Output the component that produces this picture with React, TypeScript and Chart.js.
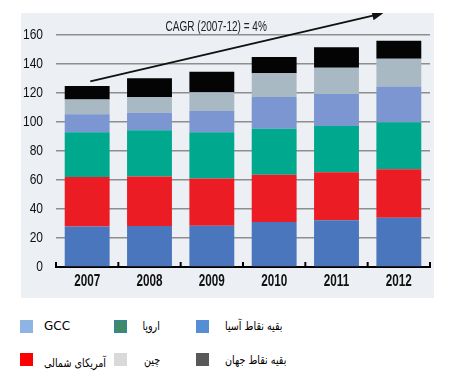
import React, { useEffect, useRef } from "react";
import { Chart, registerables } from "chart.js";

Chart.register(...registerables);

const YEARS = ["2007", "2008", "2009", "2010", "2011", "2012"];
const ASIA = [28, 28.3, 28.5, 31, 32.2, 34];
const NORTH_AMERICA = [34, 34.2, 32.6, 32.7, 33.1, 33.4];
const EUROPE = [31, 31.8, 31.8, 31.7, 31.9, 32.4];
const GCC = [12.3, 12.1, 14.7, 21.8, 22.1, 24.6];
const CHINA = [10.3, 10.6, 12.9, 16.4, 18.2, 19.3];
const WORLD = [9.2, 13.1, 14.2, 11.2, 14, 12.4];

const Y_TICKS = [0, 20, 40, 60, 80, 100, 120, 140, 160];

const CAGR_TEXT = "CAGR (2007-12) = 4%";
// arrow/label anchors in data units (category index, value)
const ARROW_FROM = [0.05, 128];
const ARROW_TO = [4.75, 175];
const CAGR_AT = [2.07, 165.5];

const LEGEND_LABELS = ["GCC", "اروپا", "بقیه نقاط آسیا", "آمریکای شمالی", "چین", "بقیه نقاط جهان"];
const LEGEND_COLORS = ["#8db4e2", "#3e8a6a", "#558ed5", "#ff0000", "#d9d9d9", "#595959"];

const FAM = "'DejaVu Sans', sans-serif";
const NARROW = "'Liberation Sans', Arial, sans-serif";

function condText(ctx: any, text: string, x: number, y: number, sx: number) {
  ctx.save();
  ctx.translate(x, y);
  ctx.scale(sx, 1);
  ctx.fillText(text, 0, 0);
  ctx.restore();
}

const annotPlugin = {
  id: "annot",
  afterDraw(chart: any) {
    const { ctx, scales, chartArea } = chart;
    const x = scales.x;
    const y = scales.y;
    ctx.save();
    // upward ticks at category boundaries
    ctx.strokeStyle = "#000";
    ctx.lineWidth = 2;
    const y0 = y.getPixelForValue(0);
    for (let i = 0; i <= YEARS.length; i++) {
      const px = x.getPixelForValue(i - 0.5);
      ctx.beginPath();
      ctx.moveTo(px, y0 + 1);
      ctx.lineTo(px, y0 - 5);
      ctx.stroke();
    }
    // x labels (condensed)
    ctx.fillStyle = "#111";
    ctx.textBaseline = "middle";
    ctx.textAlign = "center";
    ctx.font = `bold 16px ${NARROW}`;
    YEARS.forEach((lab, i) => condText(ctx, lab, x.getPixelForValue(i), y0 + 15, 0.73));
    // y labels (condensed)
    ctx.textAlign = "right";
    ctx.font = `normal 15px ${NARROW}`;
    Y_TICKS.forEach((v) => condText(ctx, String(v), chartArea.left - 13, y.getPixelForValue(v), 0.8));
    // arrow
    const x1 = x.getPixelForValue(ARROW_FROM[0]);
    const y1 = y.getPixelForValue(ARROW_FROM[1]);
    const x2 = x.getPixelForValue(ARROW_TO[0]);
    const y2 = y.getPixelForValue(ARROW_TO[1]);
    ctx.strokeStyle = "#111";
    ctx.lineWidth = 2;
    ctx.beginPath();
    ctx.moveTo(x1, y1);
    ctx.lineTo(x2 - 6, y2 + 1.4);
    ctx.stroke();
    const ang = Math.atan2(y2 - y1, x2 - x1);
    ctx.fillStyle = "#111";
    ctx.beginPath();
    ctx.moveTo(x2, y2);
    ctx.lineTo(x2 - 11 * Math.cos(ang) + 4.5 * Math.sin(ang), y2 - 11 * Math.sin(ang) - 4.5 * Math.cos(ang));
    ctx.lineTo(x2 - 11 * Math.cos(ang) - 4.5 * Math.sin(ang), y2 - 11 * Math.sin(ang) + 4.5 * Math.cos(ang));
    ctx.closePath();
    ctx.fill();
    // CAGR label
    ctx.fillStyle = "#222";
    ctx.font = `normal 15px ${NARROW}`;
    ctx.textAlign = "center";
    condText(ctx, CAGR_TEXT, x.getPixelForValue(CAGR_AT[0]), y.getPixelForValue(CAGR_AT[1]), 0.67);
    ctx.restore();
  },
};

function ChartBox() {
  const ref = useRef<HTMLCanvasElement>(null);
  useEffect(() => {
    const canvas = ref.current!;
    const ds = (label: string, data: number[], color: string) => ({
      label,
      data,
      backgroundColor: color,
      borderWidth: 0,
      barPercentage: 0.72,
      categoryPercentage: 1,
    });
    const chart = new Chart(canvas, {
      type: "bar",
      data: {
        labels: YEARS,
        datasets: [
          ds(LEGEND_LABELS[2], ASIA, "#4a76be"),
          ds(LEGEND_LABELS[3], NORTH_AMERICA, "#ec1c24"),
          ds(LEGEND_LABELS[1], EUROPE, "#00a88e"),
          ds(LEGEND_LABELS[0], GCC, "#7b96d0"),
          ds(LEGEND_LABELS[4], CHINA, "#a9b9c4"),
          ds(LEGEND_LABELS[5], WORLD, "#040404"),
        ],
      },
      options: {
        animation: false,
        responsive: false,
        maintainAspectRatio: false,
        layout: { padding: { top: 22, right: 4, left: 0, bottom: 0 } },
        plugins: { legend: { display: false }, tooltip: { enabled: false } },
        scales: {
          x: {
            stacked: true,
            grid: { display: true, drawOnChartArea: false, drawTicks: false, color: "rgba(0,0,0,0)" },
            border: { display: true, color: "#000", width: 2 },
            ticks: { display: false },
            afterFit: (s: any) => { s.height = 31; },
          },
          y: {
            stacked: true,
            min: 0,
            max: 160,
            afterBuildTicks: (s: any) => { s.ticks = Y_TICKS.map((v) => ({ value: v })); },
            grid: { color: "#8e8e8e", lineWidth: 1.5, drawTicks: false },
            border: { display: false },
            ticks: { display: false },
            afterFit: (s: any) => { s.width = 35; },
          },
        },
      },
      plugins: [annotPlugin],
    });
    return () => chart.destroy();
  }, []);
  return (
    <canvas
      ref={ref}
      width={413}
      height={285}
      style={{ position: "absolute", left: 21, top: 13, width: 413, height: 285, background: "#eceff3" }}
    />
  );
}

const SQ_X = [20, 114, 196];
const ROW_Y = [320, 353];

export default function App() {
  return (
    <div style={{ position: "absolute", left: 0, top: 0, width: 464, height: 382, background: "#fff", overflow: "hidden" }}>
      <ChartBox />
      {LEGEND_LABELS.map((label, i) => {
        const col = i % 3;
        const row = Math.floor(i / 3);
        const top = ROW_Y[row];
        const isEurope = i === 1;
        const latin = i === 0;
        const textStyle: React.CSSProperties = {
          position: "absolute",
          top: top - 2 + (i === 3 ? 4 : row === 1 ? 1 : 0),
          fontFamily: FAM,
          fontSize: 12,
          lineHeight: "17px",
          color: "#000",
          whiteSpace: "nowrap",
          transform: latin ? "none" : "scaleX(0.8)",
          transformOrigin: col === 1 ? "right center" : "left center",
        };
        if (col === 1) {
          textStyle.right = 464 - 160;
        } else {
          textStyle.left = col === 0 ? 44 : 225;
        }
        return (
          <React.Fragment key={label}>
            <div
              style={{
                position: "absolute",
                left: SQ_X[col],
                top,
                width: isEurope ? 11 : 13,
                height: isEurope ? 11 : 13,
                background: LEGEND_COLORS[i],
                border: isEurope ? "1px solid #31859c" : "none",
              }}
            />
            <div dir={latin ? "ltr" : "rtl"} style={textStyle}>{label}</div>
          </React.Fragment>
        );
      })}
    </div>
  );
}
